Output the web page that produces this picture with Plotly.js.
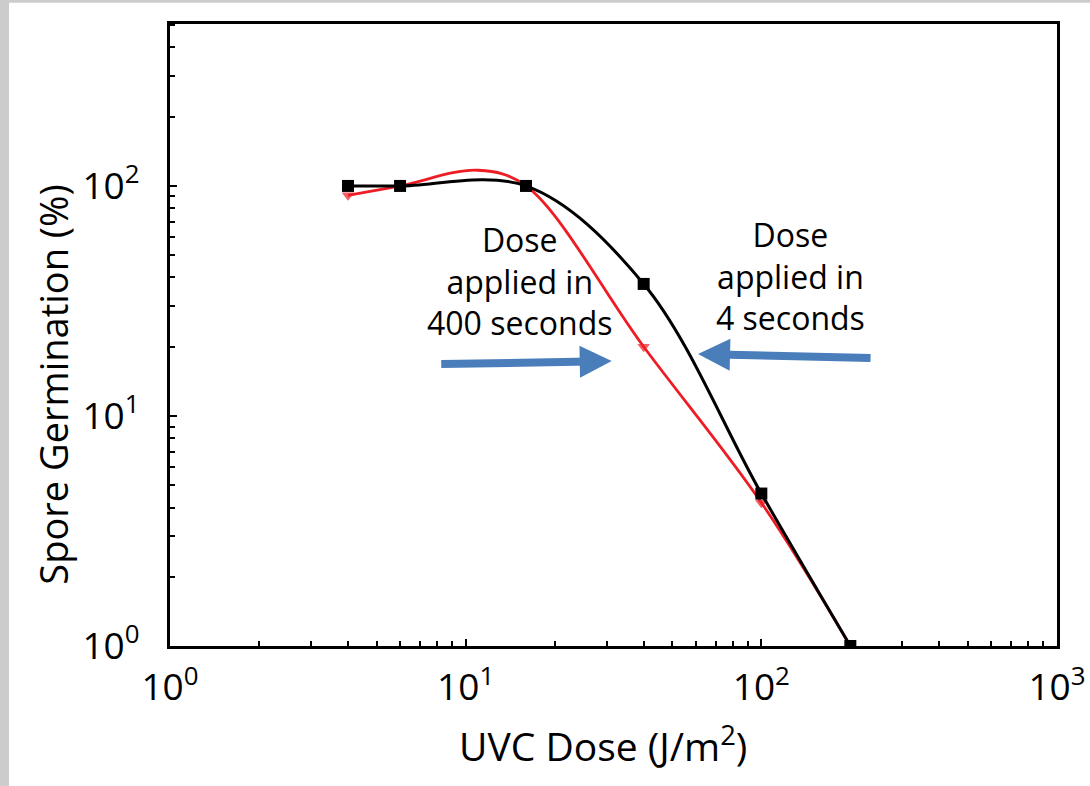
<!DOCTYPE html>
<html>
<head>
<meta charset="utf-8">
<script src="https://cdn.plot.ly/plotly-3.0.1.min.js"></script>
<style>
html,body{margin:0;padding:0;background:#fff;}
#chart{width:1090px;height:786px;}
</style>
</head>
<body>
<div id="chart"></div>
<script>
// Dose applied in 4 seconds (black, squares)
const doseFast = [4, 6, 16, 40, 100, 200];
const germFast = [100, 100, 100, 37.5, 4.6, 1];
// Dose applied in 400 seconds (red, triangles)
const doseSlow = [4, 6, 11, 16, 40, 100, 200];
const germSlow = [91, 100, 117, 100, 20, 4.2, 1];
const slowMarkerShown = [1, 0, 0, 0, 1, 1, 0];

const xTickVals = [1, 10, 100, 1000];
const xTickText = ['10<sup>0</sup>', '10<sup>1</sup>', '10<sup>2</sup>', '10<sup>3</sup>'];
const yTickVals = [1, 10, 100];
const yTickText = ['10<sup>0</sup>', '10<sup>1</sup>', '10<sup>2</sup>'];
const minorTicks = [2,3,4,5,6,7,8,9,20,30,40,50,60,70,80,90,200,300,400,500,600,700,800,900];

const FONT = '"Open Sans", Lato, sans-serif';

const traces = [
  {
    x: doseSlow, y: germSlow, type: 'scatter', mode: 'lines+markers',
    line: {color: '#ee1c25', width: 2.8, shape: 'spline', smoothing: 1},
    marker: {symbol: 'triangle-down', color: '#ee1c25', size: slowMarkerShown.map(v => v ? 11 : 0), line: {width: 0}},
    name: 'Dose applied in 400 seconds', showlegend: false, hoverinfo: 'x+y'
  },
  {
    x: doseFast, y: germFast, type: 'scatter', mode: 'lines+markers',
    line: {color: '#000000', width: 3, shape: 'spline', smoothing: 1},
    marker: {symbol: 'square', color: '#000000', size: 12},
    name: 'Dose applied in 4 seconds', showlegend: false, hoverinfo: 'x+y'
  }
];

const layout = {
  width: 1090, height: 786,
  margin: {l: 170, r: 33, t: 24, b: 140},
  paper_bgcolor: '#ffffff', plot_bgcolor: '#ffffff',
  font: {family: FONT, color: '#000000'},
  showlegend: false,
  xaxis: {
    type: 'log', range: [0, 3],
    tickmode: 'array', tickvals: xTickVals, ticktext: xTickText,
    ticks: 'inside', ticklen: 7, tickwidth: 2, tickcolor: '#000',
    minor: {ticks: 'inside', ticklen: 5, tickwidth: 2, tickcolor: '#000', tickmode: 'array', tickvals: minorTicks, showgrid: false},
    showline: true, linecolor: '#000', linewidth: 3, mirror: true,
    showgrid: false, zeroline: false,
    tickfont: {family: FONT, size: 37, color: '#000'},
    ticklabelstandoff: 7
  },
  yaxis: {
    type: 'log', range: [0, 2.704],
    tickmode: 'array', tickvals: yTickVals, ticktext: yTickText,
    ticks: 'inside', ticklen: 7, tickwidth: 2, tickcolor: '#000',
    minor: {ticks: 'inside', ticklen: 5, tickwidth: 2, tickcolor: '#000', tickmode: 'array', tickvals: minorTicks, showgrid: false},
    showline: true, linecolor: '#000', linewidth: 3, mirror: true,
    showgrid: false, zeroline: false,
    tickfont: {family: FONT, size: 37, color: '#000'},
    ticklabelstandoff: 20
  },
  shapes: [
    {type: 'rect', xref: 'paper', yref: 'paper', x0: -0.192, x1: -0.1815, y0: -0.3, y1: 1.1, fillcolor: '#cccccc', line: {width: 0}, layer: 'below'},
    {type: 'rect', xref: 'paper', yref: 'paper', x0: -0.192, x1: 1.1, y0: 1.034, y1: 1.1, fillcolor: '#cccccc', line: {width: 0}, layer: 'below'}
  ],
  annotations: [
    {xref: 'paper', yref: 'paper', x: 0.4885, y: -0.157, text: 'UVC Dose (J/m<sup>2</sup>)', showarrow: false,
     font: {family: FONT, size: 39, color: '#000'}, xanchor: 'center', yanchor: 'middle'},
    {xref: 'paper', yref: 'paper', x: -0.132, y: 0.42, text: 'Spore Germination (%)', showarrow: false, textangle: -90,
     font: {family: FONT, size: 38, color: '#000'}, xanchor: 'center', yanchor: 'middle'},
    {xref: 'paper', yref: 'paper', x: 0.3935, y: 0.587, text: 'Dose<br>applied in<br>400 seconds', showarrow: false,
     font: {family: FONT, size: 32, color: '#000'}, xanchor: 'center', yanchor: 'middle', align: 'center'},
    {xref: 'paper', yref: 'paper', x: 0.7, y: 0.595, text: 'Dose<br>applied in<br>4 seconds', showarrow: false,
     font: {family: FONT, size: 32, color: '#000'}, xanchor: 'center', yanchor: 'middle', align: 'center'},
    {xref: 'paper', yref: 'paper', x: 0.498, y: 0.458, ax: -172, ay: 3, text: '', showarrow: true,
     arrowhead: 2, arrowsize: 0.8, arrowwidth: 8, arrowcolor: '#4a7ebb', standoff: 0},
    {xref: 'paper', yref: 'paper', x: 0.5953, y: 0.4695, ax: 174, ay: 4, text: '', showarrow: true,
     arrowhead: 2, arrowsize: 0.8, arrowwidth: 8, arrowcolor: '#4a7ebb', standoff: 0}
  ]
};

Plotly.newPlot('chart', traces, layout, {displayModeBar: false, staticPlot: true});
</script>
</body>
</html>
